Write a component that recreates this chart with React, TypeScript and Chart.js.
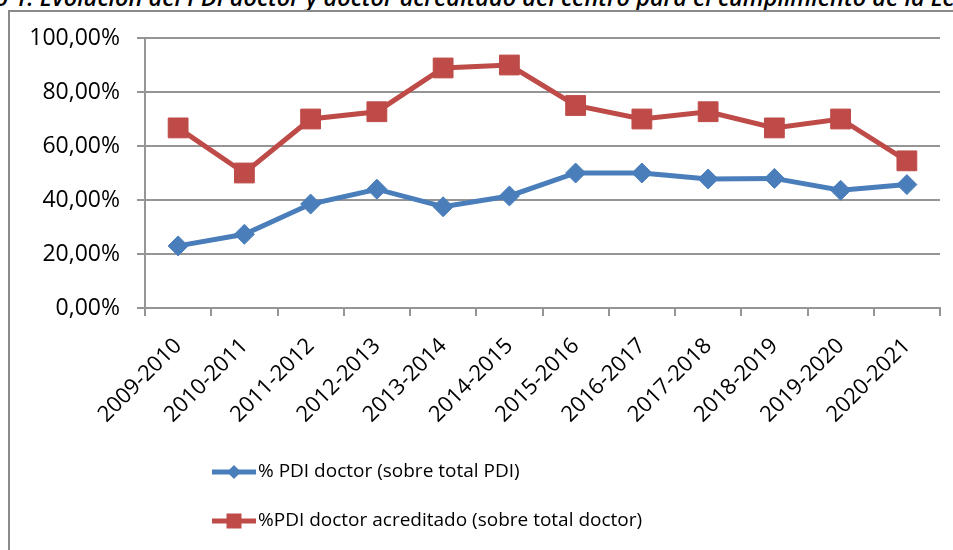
import React, { useEffect, useRef } from "react";
import { Chart, registerables } from "chart.js";

Chart.register(...registerables);

const categories = [
  "2009-2010", "2010-2011", "2011-2012", "2012-2013", "2013-2014", "2014-2015",
  "2015-2016", "2016-2017", "2017-2018", "2018-2019", "2019-2020", "2020-2021",
];
const pdiDoctor = [23.0, 27.3, 38.5, 44.0, 37.5, 41.5, 50.0, 50.0, 47.8, 48.0, 43.6, 45.7];
const pdiAcreditado = [66.7, 50.0, 70.0, 72.7, 88.9, 90.0, 75.0, 70.0, 72.7, 66.7, 70.0, 54.5];
const seriesNames = ["% PDI doctor (sobre total PDI)", "%PDI doctor acreditado (sobre total doctor)"];
const yTicks = [0, 20, 40, 60, 80, 100];

const BLUE = "#4A7EBB";
const RED = "#BE4B48";
const GRID = "#959595";
const FONT = "'Open Sans', sans-serif";

const legendPlugin = {
  id: "customLegend",
  afterDraw(chart: any) {
    const ctx = chart.ctx as CanvasRenderingContext2D;
    const rows = [
      { y: 460, color: BLUE, shape: "diamond", label: seriesNames[0] },
      { y: 509, color: RED, shape: "square", label: seriesNames[1] },
    ];
    ctx.save();
    for (const r of rows) {
      const x0 = 202, x1 = 246, cx = (x0 + x1) / 2;
      ctx.strokeStyle = r.color;
      ctx.lineWidth = 5;
      ctx.beginPath();
      ctx.moveTo(x0, r.y);
      ctx.lineTo(x1, r.y);
      ctx.stroke();
      ctx.fillStyle = r.color;
      ctx.beginPath();
      if (r.shape === "diamond") {
        const s = 7;
        ctx.moveTo(cx, r.y - s);
        ctx.lineTo(cx + s, r.y);
        ctx.lineTo(cx, r.y + s);
        ctx.lineTo(cx - s, r.y);
        ctx.closePath();
      } else {
        const s = 7.5;
        ctx.rect(cx - s, r.y - s, 2 * s, 2 * s);
      }
      ctx.fill();
      ctx.fillStyle = "#000";
      ctx.font = `19px ${FONT}`;
      ctx.textBaseline = "middle";
      ctx.textAlign = "left";
      ctx.fillText(r.label, 248, r.y);
    }
    ctx.restore();
  },
};

export default function App() {
  const ref = useRef<HTMLCanvasElement | null>(null);
  useEffect(() => {
    if (!ref.current) return;
    const chart = new Chart(ref.current, {
      type: "line",
      data: {
        labels: categories,
        datasets: [
          {
            label: seriesNames[0],
            data: pdiDoctor,
            borderColor: BLUE,
            backgroundColor: BLUE,
            borderWidth: 5,
            pointStyle: "rectRot",
            pointRadius: 10,
            pointBorderWidth: 1,
            tension: 0,
          },
          {
            label: seriesNames[1],
            data: pdiAcreditado,
            borderColor: RED,
            backgroundColor: RED,
            borderWidth: 5,
            pointStyle: "rect",
            pointRadius: 14,
            pointBorderWidth: 1,
            tension: 0,
          },
        ],
      },
      options: {
        animation: false,
        responsive: false,
        layout: { autoPadding: false, padding: { top: 26, right: 13, bottom: 112, left: 0 } },
        plugins: { legend: { display: false }, tooltip: { enabled: false } },
        scales: {
          x: {
            type: "category",
            offset: true,
            grid: {
              offset: true,
              drawOnChartArea: false,
              drawTicks: true,
              tickLength: 8,
              color: GRID,
              lineWidth: 2,
            },
            border: { display: true, color: GRID, width: 2 },
            ticks: {
              maxRotation: 45,
              minRotation: 45,
              autoSkip: false,
              padding: 17,
              color: "#000",
              font: { family: FONT, size: 22 },
            },
            afterFit(scale: any) {
              scale.height = 130;
              scale.paddingLeft = 0;
              scale.paddingRight = 0;
            },
          },
          y: {
            min: 0,
            max: 100,
            afterBuildTicks(scale: any) {
              scale.ticks = yTicks.map((v) => ({ value: v }));
            },
            grid: { color: GRID, lineWidth: 2, tickLength: 8 },
            border: { display: true, color: GRID, width: 2 },
            ticks: {
              padding: 17,
              color: "#000",
              font: { family: FONT, size: 23 },
              callback: (v: any) => Number(v).toFixed(2).replace(".", ",") + "%",
            },
            afterFit(scale: any) {
              scale.width = 135;
              scale.paddingTop = 0;
              scale.paddingBottom = 0;
            },
          },
        },
      },
      plugins: [legendPlugin],
    });
    return () => chart.destroy();
  }, []);

  return (
    <div style={{ position: "fixed", inset: 0, overflow: "hidden", background: "#fff" }}>
      <div
        style={{
          position: "absolute",
          left: 0,
          top: -15,
          whiteSpace: "nowrap",
          fontFamily: "'Open Sans', sans-serif",
          fontStyle: "italic",
          fontWeight: 600,
          fontSize: 23.5,
          lineHeight: "24px",
          color: "#000",
          marginLeft: -70,
        }}
      >
        Gráfico 1. Evolución del PDI doctor y doctor acreditado del centro para el cumplimiento de la Ley
      </div>
      <div
        style={{
          position: "absolute",
          left: 8,
          top: 10,
          width: 1000,
          height: 600,
          border: "2px solid #8a8a8a",
          boxSizing: "border-box",
        }}
      />
      <canvas
        ref={ref}
        width={943}
        height={538}
        style={{ position: "absolute", left: 10, top: 12, width: 943, height: 538 }}
      />
    </div>
  );
}
